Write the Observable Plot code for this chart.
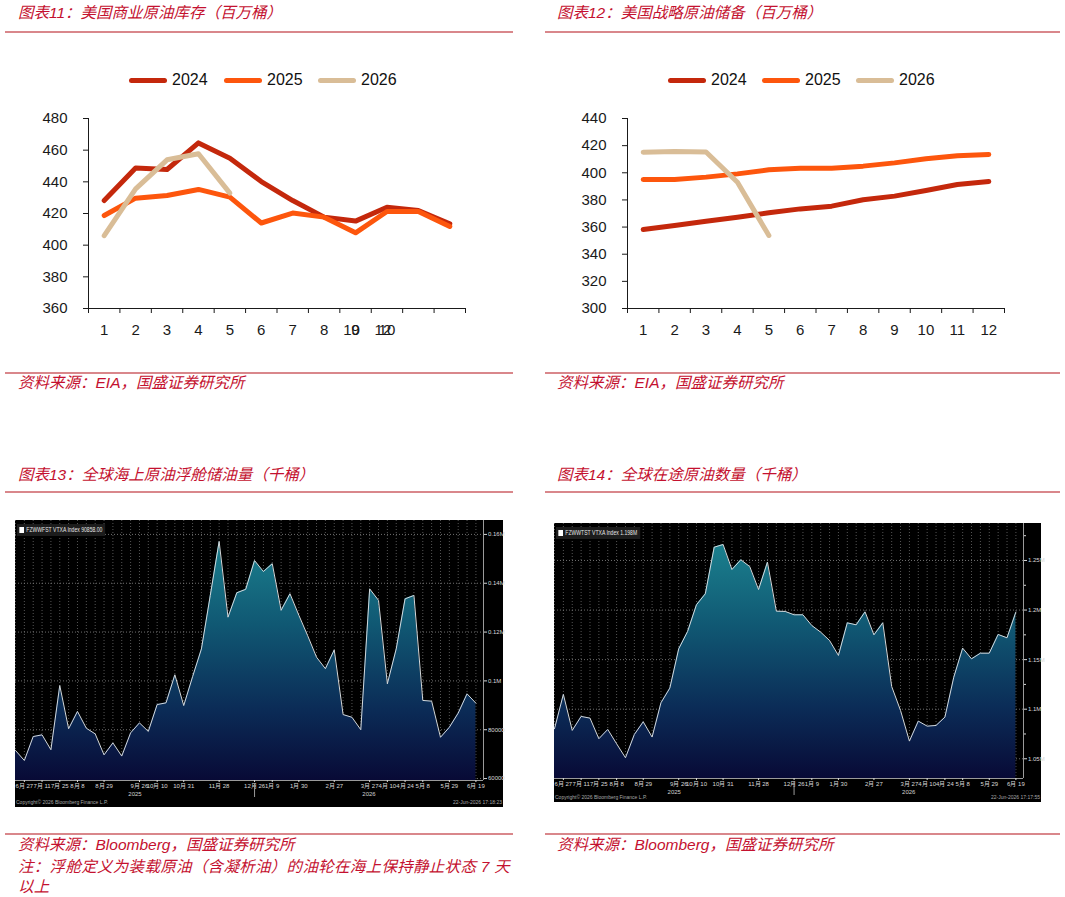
<!DOCTYPE html>
<html lang="zh-CN">
<head>
<meta charset="utf-8">
<script src="https://cdn.jsdelivr.net/npm/d3@7"></script>
<script src="https://cdn.jsdelivr.net/npm/@observablehq/plot@0.6"></script>
<style>
  html, body { margin:0; padding:0; background:#fff; }
  #page { position:relative; width:1065px; height:897px; overflow:hidden; }
  .cap { position:absolute; font-family:"Liberation Sans","Noto Sans CJK SC",sans-serif; font-style:italic;
         color:#c4112f; font-size:15.5px; line-height:18px; white-space:nowrap; }
  .hr { position:absolute; height:2px; background:#d9878b; }
  .lg { position:absolute; font-family:"Liberation Sans",sans-serif; font-size:16px; color:#111; line-height:16px; }
  .sw { position:absolute; width:38px; height:5px; border-radius:3px; }
  .panel { position:absolute; }
  .panel svg { display:block; }
  .bbkey { position:absolute; background:#1c1c1c; color:#e8e8e8; font-family:"Liberation Sans Narrow","Liberation Sans",sans-serif;
           font-size:6.5px; line-height:12px; height:12px; padding:0 4px 0 12px; white-space:nowrap;
           transform:scaleX(0.78); transform-origin:left top; }
  .bbkey::before { content:""; position:absolute; left:3px; top:3px; width:6px; height:6px; background:#fff; }
  .bbfoot { position:absolute; color:#a8a8a8; font-family:"Liberation Sans Narrow","Liberation Sans",sans-serif;
            font-size:5px; line-height:6px; white-space:nowrap; }
</style>
</head>
<body>
<div id="page">
  <!-- headings -->
  <div class="cap" style="left:18px;top:4px">图表11：美国商业原油库存（百万桶）</div>
  <div class="cap" style="left:557px;top:4px">图表12：美国战略原油储备（百万桶）</div>
  <div class="hr" style="left:5px;top:31px;width:508px"></div>
  <div class="hr" style="left:545px;top:31px;width:515px"></div>

  <div id="c11" class="panel" style="left:0;top:40px;width:530px;height:320px"></div>
  <div id="c12" class="panel" style="left:535px;top:40px;width:530px;height:320px"></div>

  <div id="lg11"></div>
  <div id="lg12"></div>

  <div class="hr" style="left:5px;top:372px;width:508px"></div>
  <div class="hr" style="left:545px;top:372px;width:515px"></div>
  <div class="cap" style="left:18px;top:374px">资料来源：EIA，国盛证券研究所</div>
  <div class="cap" style="left:557px;top:374px">资料来源：EIA，国盛证券研究所</div>

  <div class="cap" style="left:18px;top:466px">图表13：全球海上原油浮舱储油量（千桶）</div>
  <div class="cap" style="left:557px;top:466px">图表14：全球在途原油数量（千桶）</div>
  <div class="hr" style="left:5px;top:491px;width:508px"></div>
  <div class="hr" style="left:545px;top:491px;width:515px"></div>

  <div id="c13" class="panel" style="left:15px;top:520px;width:488px;height:287px;background:#000"></div>
  <div id="c14" class="panel" style="left:554px;top:523px;width:487px;height:279px;background:#000"></div>

  <div class="hr" style="left:5px;top:833px;width:508px"></div>
  <div class="hr" style="left:545px;top:833px;width:515px"></div>
  <div class="cap" style="left:18px;top:836px">资料来源：Bloomberg，国盛证券研究所</div>
  <div class="cap" style="left:557px;top:836px">资料来源：Bloomberg，国盛证券研究所</div>
  <div class="cap" style="left:18px;top:857px;line-height:20px;letter-spacing:0.3px">注：浮舱定义为装载原油（含凝析油）的油轮在海上保持静止状态 7 天<br>以上</div>
</div>

<script>
// ---------- data ----------
const months = [1, 2, 3, 4, 5, 6, 7, 8, 9, 10, 11, 12];

// US commercial crude inventories, million barrels
const commercial2024 = [428.2, 448.7, 447.8, 464.6, 454.9, 440.2, 428.2, 417.7, 415.2, 424.0, 421.9, 413.5];
const commercial2025 = [418.7, 429.7, 431.4, 435.2, 430.3, 414.0, 420.3, 417.7, 407.8, 421.3, 421.3, 411.8];
const commercial2026 = [406.0, 435.6, 453.9, 457.7, 432.9];

// US strategic petroleum reserve, million barrels
const spr2024 = [358.2, 361.1, 364.3, 367.3, 370.5, 373.4, 375.4, 380.1, 382.8, 386.9, 391.4, 393.6];
const spr2025 = [395.0, 395.1, 396.8, 399.2, 402.2, 403.4, 403.4, 404.9, 407.3, 410.3, 412.5, 413.5];
const spr2026 = [415.2, 415.7, 415.3, 393.0, 353.8];

const seriesYears = ["2024", "2025", "2026"];
const seriesColors = ["#c4280c", "#fd560d", "#d9bd97"];

const yTicks11 = [360, 380, 400, 420, 440, 460, 480];
const yTicks12 = [300, 320, 340, 360, 380, 400, 420, 440];

// month labels under the commercial-stocks chart (the last ones collide)
const xLabels11 = ["1", "2", "3", "4", "5", "6", "7", "8", "9", "10"];
const xLabels11Overlap = [{pos: 9, label: "10"}, {pos: 10, label: "12"}];
const xLabels12 = ["1", "2", "3", "4", "5", "6", "7", "8", "9", "10", "11", "12"];

// weekly Friday observations, 2025-06-20 .. 2026-06-19
const firstWeek = "2025-06-20";
// floating storage, thousand barrels
const floatingStorage = [
  71500, 67400, 77200, 77900, 71800, 98100, 80400, 87500, 80600, 78300,
  69700, 74600, 69200, 78700, 82800, 79300, 90300, 91000, 102500, 89900,
  101700, 113100, 135000, 157100, 126100, 136100, 137500, 149300, 144800, 148000,
  128900, 135700, 126900, 118500, 109700, 105000, 112700, 86200, 85100, 80000,
  137700, 133000, 98800, 113100, 133600, 135000, 92000, 91700, 76900, 81000,
  86800, 94700, 90858
];
// crude oil in transit, thousand barrels
const oilInTransit = [
  1080300, 1114900, 1078600, 1092700, 1091000, 1070200, 1079600, 1065100, 1051000, 1074500,
  1087300, 1071900, 1106500, 1121300, 1160900, 1178400, 1205300, 1216400, 1263400, 1266100,
  1240900, 1250700, 1243900, 1220700, 1248300, 1198900, 1198600, 1195200, 1195200, 1184400,
  1177700, 1169300, 1154200, 1187100, 1185100, 1198200, 1175000, 1187100, 1122900, 1098700,
  1067800, 1088000, 1082900, 1083600, 1092000, 1132300, 1161600, 1150800, 1156500, 1156500,
  1175400, 1172000, 1198000
];
const dateTicks = [
  "2025-06-27", "2025-07-11", "2025-07-25", "2025-08-08", "2025-08-29", "2025-09-26",
  "2025-10-10", "2025-10-31", "2025-11-28", "2025-12-26", "2026-01-09", "2026-01-30",
  "2026-02-27", "2026-03-27", "2026-04-10", "2026-04-24", "2026-05-08", "2026-05-29", "2026-06-19"
];
const yearBreak = "2025-12-26";
const yTicks13 = [60000, 80000, 100000, 120000, 140000, 160000];
const yTicks14 = [1050000, 1100000, 1150000, 1200000, 1250000];
const yMinor14 = [1075000, 1125000, 1175000, 1225000, 1275000];

// ---------- monthly line charts ----------
function monthlyChart({series, yDomain, yTicks, labels, overlap, marginLeft, marginRight}) {
  const bounds = d3.range(0.5, 12.6, 1);
  const marks = [
    Plot.axisY({ticks: yTicks, tickSize: 5, tickPadding: 16, fontSize: 15, label: null}),
    Plot.axisX({ticks: bounds, tickSize: 5, tickFormat: () => "", label: null}),
    Plot.ruleX([0.5], {stroke: "#1a1a1a"}),
    Plot.ruleY([yDomain[0]], {stroke: "#1a1a1a"}),
    ...series.map((values, k) =>
      Plot.line(values.map((v, i) => ({month: months[i], value: v})), {
        x: "month", y: "value", stroke: seriesColors[k], strokeWidth: 5,
        strokeLinejoin: "round", strokeLinecap: "round"
      })),
    Plot.text(labels.map((l, i) => ({pos: months[i], label: l})), {
      x: "pos", text: "label", frameAnchor: "bottom", dy: 22, fontSize: 15, lineAnchor: "middle"
    })
  ];
  if (overlap) marks.push(Plot.text(overlap, {
    x: "pos", text: "label", frameAnchor: "bottom", dy: 22, dx: -4, fontSize: 15, lineAnchor: "middle"
  }));
  return Plot.plot({
    width: 530, height: 320,
    marginLeft, marginRight, marginTop: 78, marginBottom: 52,
    x: {domain: [0.5, 12.5]},
    y: {domain: yDomain},
    style: {background: "transparent", color: "#1a1a1a", fontFamily: "Liberation Sans, sans-serif", fontSize: "15px", overflow: "visible"},
    marks
  });
}

function legend(containerId, left, top, offsets) {
  const box = document.getElementById(containerId);
  seriesYears.forEach((y, k) => {
    const sw = document.createElement("div");
    sw.className = "sw";
    sw.style.left = (left + offsets[k]) + "px";
    sw.style.top = (top - 2.5) + "px";
    sw.style.background = seriesColors[k];
    const tx = document.createElement("div");
    tx.className = "lg";
    tx.style.left = (left + offsets[k] + 43) + "px";
    tx.style.top = (top - 8) + "px";
    tx.textContent = y;
    box.append(sw, tx);
  });
}

document.getElementById("c11").append(monthlyChart({
  series: [commercial2024, commercial2025, commercial2026],
  yDomain: [360, 480], yTicks: yTicks11, labels: xLabels11, overlap: xLabels11Overlap,
  marginLeft: 88, marginRight: 65
}));
document.getElementById("c12").append(monthlyChart({
  series: [spr2024, spr2025, spr2026],
  yDomain: [300, 440], yTicks: yTicks12, labels: xLabels12,
  marginLeft: 92, marginRight: 61
}));
legend("lg11", 129, 80, [0, 95, 189]);
legend("lg12", 668, 80, [0, 94, 188]);

// ---------- weekly terminal-style area charts ----------
function weeklyChart({el, values, yDomain, yTicks, yMinor, width, height, marginRight, marginBottom, gradId, keyName, keyFmt, stamp, keyTop}) {
  const start = new Date(firstWeek);
  const dates = values.map((_, i) => d3.utcDay.offset(start, 7 * i));
  const data = dates.map((date, i) => ({date, value: values[i]}));
  const end = d3.utcDay.offset(dates[dates.length - 1], 6);
  const brk = new Date(yearBreak);
  const ticks = dateTicks.map(d => new Date(d));
  const fmtY = v => v >= 100000 ? (v / 1e6) + "M" : String(v);
  const fmtX = d => `${d.getUTCMonth() + 1}月 ${d.getUTCDate()}`;
  const px = (yDomain[1] - yDomain[0]) / (height - marginBottom);
  const mid = (a, b) => new Date((+a + +b) / 2);

  const gradient = () => {
    const defs = d3.create("svg:defs");
    const g = defs.append("linearGradient").attr("id", gradId)
      .attr("x1", 0).attr("x2", 0).attr("y1", 0).attr("y2", 1);
    [[0, "#1b808e"], [0.35, "#105873"], [0.7, "#0b2c57"], [1, "#080a36"]]
      .forEach(([o, c]) => g.append("stop").attr("offset", o).attr("stop-color", c));
    return defs.node();
  };

  const marks = [
    gradient,
    Plot.gridX(dates, {stroke: "#6a6a6a", strokeOpacity: 0.8, strokeDasharray: "1,2"}),
    Plot.gridY(yTicks, {stroke: "#8a8a8a", strokeOpacity: 0.8, strokeDasharray: "1,2"}),
    Plot.areaY(data, {x: "date", y1: yDomain[0], y2: "value", fill: `url(#${gradId})`}),
    Plot.lineY(data, {x: "date", y: "value", stroke: "#d4d9dc", strokeWidth: 1}),
    Plot.ruleX([end], {stroke: "#9a9a9a"}),
    Plot.ruleY([yDomain[0]], {stroke: "#9a9a9a"}),
    Plot.axisY({anchor: "right", ticks: yTicks, tickFormat: fmtY, tickSize: 3, tickPadding: 1.5, fontSize: 6, label: null}),
    Plot.axisX({ticks: ticks, tickFormat: fmtX, tickSize: 2, tickPadding: 1, fontSize: 6, label: null}),
    Plot.ruleX([brk], {y1: yDomain[0] - 3 * px, y2: yDomain[0] - 17 * px, stroke: "#9a9a9a"}),
    Plot.text([{d: mid(start, brk), t: "2025"}, {d: mid(brk, end), t: "2026"}], {
      x: "d", text: "t", frameAnchor: "bottom", dy: 15, fontSize: 6, fill: "#d0d0d0"
    })
  ];
  if (yMinor) marks.push(Plot.axisY({anchor: "right", ticks: yMinor, tickSize: 2, tickFormat: () => "", label: null}));

  const svg = Plot.plot({
    width, height, marginLeft: 0, marginRight, marginTop: 0, marginBottom,
    x: {type: "utc", domain: [start, end]},
    y: {domain: yDomain},
    style: {background: "#000", color: "#d8d8d8", fontFamily: "Liberation Sans Narrow, Liberation Sans, sans-serif", overflow: "visible"},
    marks
  });
  const box = document.getElementById(el);
  box.append(svg);

  const key = document.createElement("div");
  key.className = "bbkey";
  key.style.left = "2px";
  key.style.top = keyTop + "px";
  key.textContent = `${keyName} ${keyFmt(values[values.length - 1])}`;
  const foot = document.createElement("div");
  foot.className = "bbfoot";
  foot.style.left = "1px";
  foot.style.top = (height - 8) + "px";
  foot.textContent = "Copyright© 2026 Bloomberg Finance L.P.";
  const ts = document.createElement("div");
  ts.className = "bbfoot";
  ts.style.right = "1px";
  ts.style.top = (height - 8) + "px";
  ts.textContent = stamp;
  box.append(key, foot, ts);
}

weeklyChart({
  el: "c13", values: floatingStorage, yDomain: [59200, 165700], yTicks: yTicks13,
  width: 488, height: 287, marginRight: 20, marginBottom: 27, gradId: "fillFloat",
  keyName: "FZWWFST VTXA Index", keyFmt: v => v.toFixed(2), stamp: "22-Jun-2026 17:18:23", keyTop: 4
});
weeklyChart({
  el: "c14", values: oilInTransit, yDomain: [1030100, 1287300], yTicks: yTicks14, yMinor: yMinor14,
  width: 487, height: 279, marginRight: 18, marginBottom: 24, gradId: "fillTransit",
  keyName: "FZWWTST VTXA Index", keyFmt: v => (v / 1e6).toFixed(3) + "M", stamp: "22-Jun-2026 17:17:55", keyTop: 4
});
</script>
</body>
</html>
